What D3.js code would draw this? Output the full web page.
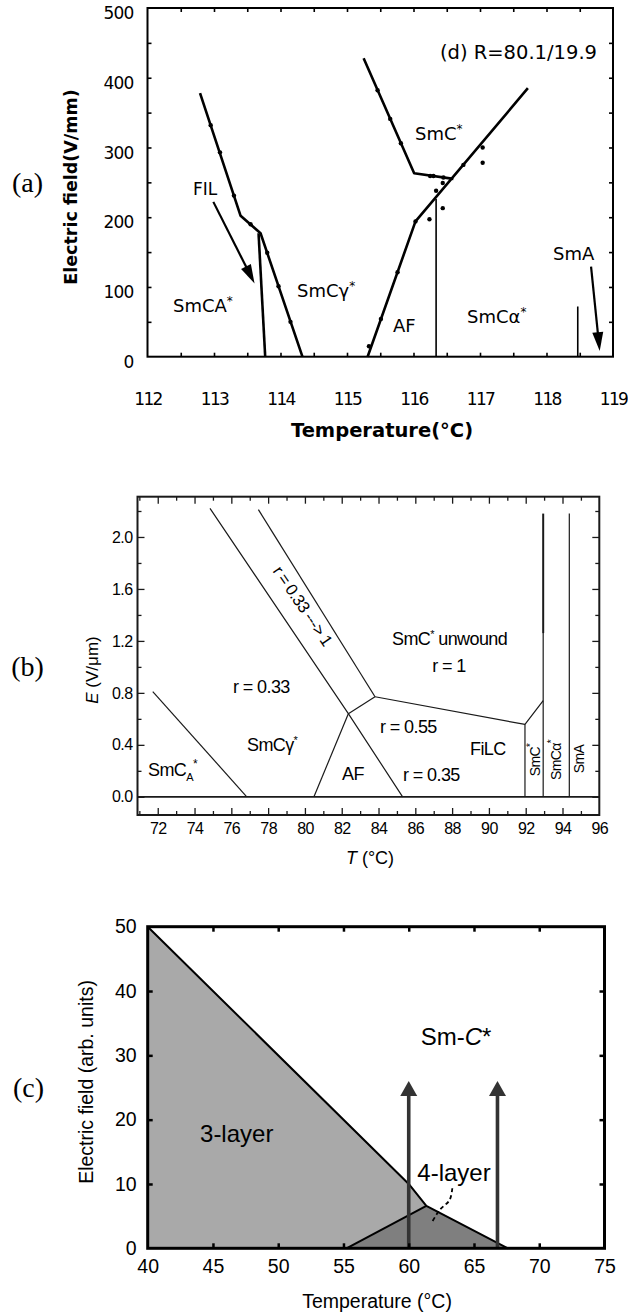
<!DOCTYPE html>
<html><head><meta charset="utf-8">
<script src="https://cdn.jsdelivr.net/npm/d3@7"></script>
<style>
body{margin:0;background:#fff;}
svg{display:block;background:#fff;}
</style></head>
<body><svg id="fig" width="628" height="1315"></svg>
<script>
// ---------- Panel (a): E–T phase diagram, R = 80.1/19.9 ----------
const aTempTicks = [112, 113, 114, 115, 116, 117, 118, 119];
const aFieldTicks = [0, 100, 200, 300, 400, 500];
const aLeftBoundary = [[112.79, 378], [113.40, 202], [113.70, 177], [114.33, 0]];
const aFilBoundary = [[113.67, 177], [113.77, 0]];
const aSmCBoundary = [[115.25, 428], [116.01, 263], [116.60, 255]];
const aAFBoundary = [[115.31, 0], [116.03, 194], [117.72, 385]];
const aAFSmCaBoundary = [[116.34, 226], [116.34, 0]];
const aSmAMark = [[118.47, 72], [118.47, 0]];
const aFilArrow = [[112.99, 222], [113.61, 105]];
const aSmAArrow = [[118.67, 129], [118.80, 8]];
const aPoints = [
  [112.95, 332], [113.09, 293], [113.30, 231], [113.55, 190], [113.80, 149], [113.97, 101], [114.15, 50],
  [115.46, 382], [115.65, 341], [115.81, 306], [116.30, 259], [116.45, 257],
  [115.33, 15], [115.51, 54], [115.76, 121], [116.03, 194], [116.75, 275], [117.04, 300],
  [117.04, 278], [116.34, 238], [116.44, 249], [116.44, 213], [116.24, 197], [116.25, 259]
];

// ---------- Panel (b): E–T diagram with r values ----------
const bTempTicks = [72, 74, 76, 78, 80, 82, 84, 86, 88, 90, 92, 94, 96];
const bFieldTicks = [0.0, 0.4, 0.8, 1.2, 1.6, 2.0];
const bSmCAEdge = [[71.73, 0.81], [76.84, 0]];
const bBandLower = [[74.84, 2.22], [82.36, 0.64], [85.31, 0]];
const bBandUpper = [[77.47, 2.21], [83.81, 0.77]];
const bTripleLink = [[82.36, 0.64], [83.81, 0.77]];
const bAFEdge = [[80.49, 0], [82.36, 0.64]];
const bFiLCTop = [[83.81, 0.77], [91.96, 0.557], [92.95, 0.74]];
const bFiLCEdge = [[91.96, 0.557], [91.96, 0]];
const bSmCEdgeUpper = [[92.95, 2.18], [92.95, 1.26]];
const bSmCEdgeLower = [[92.95, 1.26], [92.95, 0]];
const bSmCaEdge = [[94.37, 2.18], [94.37, 0]];

// ---------- Panel (c): 3-layer / 4-layer / Sm-C* ----------
const cTempTicks = [40, 45, 50, 55, 60, 65, 70, 75];
const cFieldTicks = [0, 10, 20, 30, 40, 50];
const cThreeLayer = [[40, 50], [60, 10], [61.35, 6.6], [55.23, 0], [40, 0]];
const cFourLayer = [[55.23, 0], [61.35, 6.6], [67.6, 0]];
const cBoundary = [[40, 50], [60, 10], [61.35, 6.6], [67.6, 0]];
const cFourEdge = [[55.23, 0], [61.35, 6.6]];
const cArrowTemps = [60, 66.8];
const cArrowTop = 26;
const cLeader = [[63.34, 9.33], [63.13, 7.5], [62.37, 5.96], [61.81, 4.15]];

const svg = d3.select('#fig');

function drawPath(g, sx, sy, pts, stroke, w, curve) {
  const gen = d3.line().x(d => sx(d[0])).y(d => sy(d[1]));
  if (curve) gen.curve(curve);
  return g.append('path').attr('d', gen(pts)).attr('fill', 'none')
    .attr('stroke', stroke).attr('stroke-width', w).attr('stroke-linejoin', 'round');
}

function drawArea(g, sx, sy, pts, fill) {
  const gen = d3.line().x(d => sx(d[0])).y(d => sy(d[1]));
  return g.append('path').attr('d', gen(pts) + 'Z').attr('fill', fill).attr('stroke', 'none');
}

function drawArrow(g, p1, p2, color, w, headLen, headW) {
  const dx = p2[0] - p1[0], dy = p2[1] - p1[1], L = Math.hypot(dx, dy);
  const ux = dx / L, uy = dy / L;
  const bx0 = p2[0] - ux * headLen, by0 = p2[1] - uy * headLen;
  g.append('line').attr('x1', p1[0]).attr('y1', p1[1])
    .attr('x2', bx0 + ux * 2).attr('y2', by0 + uy * 2)
    .attr('stroke', color).attr('stroke-width', w);
  const pts = [[p2[0], p2[1]], [bx0 - uy * headW / 2, by0 + ux * headW / 2], [bx0 + uy * headW / 2, by0 - ux * headW / 2]];
  g.append('polygon').attr('points', pts.map(p => p.join(',')).join(' ')).attr('fill', color);
}

function tickMarks(g, axisFn, scale, values, size, transform, width, color) {
  const a = axisFn(scale).tickValues(values).tickSize(-size).tickFormat('');
  const gg = g.append('g').attr('transform', transform).call(a);
  gg.select('.domain').remove();
  gg.selectAll('line').attr('stroke', color).attr('stroke-width', width);
  gg.selectAll('text').remove();
  return gg;
}

function tickLabels(g, axisFn, scale, values, fmt, pad, transform, font, size) {
  const a = axisFn(scale).tickValues(values).tickSize(0).tickPadding(pad).tickFormat(fmt);
  const gg = g.append('g').attr('transform', transform).call(a);
  gg.select('.domain').remove();
  gg.selectAll('line').remove();
  gg.attr('font-family', font).attr('font-size', size);
  gg.selectAll('text').attr('fill', '#000');
  return gg;
}

// Text with tspans: parts = [{t, shift, size, italic}]
function richText(g, x, y, parts, opts) {
  const o = Object.assign({ anchor: 'start', size: 16, font: 'Liberation Sans, Arial, sans-serif', rotate: 0, weight: 'normal' }, opts || {});
  const t = g.append('text').attr('font-family', o.font).attr('font-size', o.size)
    .attr('font-weight', o.weight).attr('text-anchor', o.anchor).attr('fill', '#000')
    .attr('transform', `translate(${x},${y}) rotate(${o.rotate})`);
  let prev = 0;
  parts.forEach(p => {
    const s = p.shift || 0;
    const sp = t.append('tspan').text(p.t).attr('dy', s - prev);
    if (p.size) sp.attr('font-size', p.size);
    if (p.italic) sp.attr('font-style', 'italic');
    if (p.dx) sp.attr('dx', p.dx);
    prev = s;
  });
  return t;
}

// ================= Panel (a) =================
{
  const g = svg.append('g');
  const font = 'DejaVu Sans, sans-serif';
  const sx = d3.scaleLinear().domain([112, 119]).range([147.5, 613]);
  const sy = d3.scaleLinear().domain([0, 500]).range([356.7, 8]);
  const [x0, x1] = sx.range(), [y0, y1] = sy.range();

  const halfSteps = d3.range(112.5, 119, 0.5);
  const fieldSteps = d3.range(50, 500, 50);
  tickMarks(g, d3.axisBottom, sx, halfSteps, 4, `translate(0,${y0})`, 1.6, '#000');
  tickMarks(g, d3.axisTop, sx, halfSteps, 4, `translate(0,${y1})`, 1.6, '#000');
  tickMarks(g, d3.axisLeft, sy, fieldSteps, 4, `translate(${x0},0)`, 1.6, '#000');
  tickMarks(g, d3.axisRight, sy, fieldSteps, 4, `translate(${x1},0)`, 1.6, '#000');

  g.append('rect').attr('x', x0).attr('y', y1).attr('width', x1 - x0).attr('height', y0 - y1)
    .attr('fill', 'none').attr('stroke', '#000').attr('stroke-width', 2);

  tickLabels(g, d3.axisBottom, sx, aTempTicks, d3.format('d'), 36, `translate(0,${y0})`, font, 17)
    .attr('letter-spacing', '-1.6');
  tickLabels(g, d3.axisLeft, sy, aFieldTicks, d3.format('d'), 14, `translate(${x0},0)`, font, 17)
    .attr('letter-spacing', '-0.8')
    .selectAll('text').attr('dy', '0.62em');

  // boundaries
  drawPath(g, sx, sy, aLeftBoundary, '#000', 2.6);
  drawPath(g, sx, sy, aFilBoundary, '#000', 2.6);
  drawPath(g, sx, sy, aSmCBoundary, '#000', 2.6);
  drawPath(g, sx, sy, aAFBoundary, '#000', 2.6);
  drawPath(g, sx, sy, aAFSmCaBoundary, '#000', 1.6);
  drawPath(g, sx, sy, aSmAMark, '#000', 1.6);

  g.selectAll('circle.pt').data(aPoints).join('circle').attr('class', 'pt')
    .attr('cx', d => sx(d[0])).attr('cy', d => sy(d[1])).attr('r', 2.2).attr('fill', '#000');

  drawArrow(g, [sx(aFilArrow[0][0]), sy(aFilArrow[0][1])], [sx(aFilArrow[1][0]), sy(aFilArrow[1][1])], '#000', 2.2, 19, 11);
  drawArrow(g, [sx(aSmAArrow[0][0]), sy(aSmAArrow[0][1])], [sx(aSmAArrow[1][0]), sy(aSmAArrow[1][1])], '#000', 2.2, 19, 11);

  const star = { t: '*', shift: -7, size: 12 };
  richText(g, 193, 195, [{ t: 'FIL' }], { font, size: 17 });
  richText(g, 173, 312, [{ t: 'SmCA' }, star], { font, size: 18 });
  richText(g, 297, 297, [{ t: 'SmCγ' }, star], { font, size: 18 });
  richText(g, 415, 140, [{ t: 'SmC' }, star], { font, size: 18 });
  richText(g, 393, 331.5, [{ t: 'AF' }], { font, size: 18 });
  richText(g, 467, 323, [{ t: 'SmCα' }, star], { font, size: 18 });
  richText(g, 553, 260, [{ t: 'SmA' }], { font, size: 18 });
  richText(g, 597, 59, [{ t: '(d) R=80.1/19.9' }], { font, size: 19.5, anchor: 'end' });

  richText(g, 77, 187, [{ t: 'Electric field(V/mm)' }], { font, size: 17.5, weight: 'bold', anchor: 'middle', rotate: -90 });
  richText(g, 382, 437, [{ t: 'Temperature(°C)' }], { font, size: 19.5, weight: 'bold', anchor: 'middle' });
  richText(g, 27.5, 192, [{ t: '(a)' }], { font: 'Liberation Serif, Times New Roman, serif', size: 28, anchor: 'middle' });
}

// ================= Panel (b) =================
{
  const g = svg.append('g');
  const font = 'Liberation Sans, Arial, sans-serif';
  const sx = d3.scaleLinear().domain([70.9, 96]).range([137.5, 599.3]);
  const sy = d3.scaleLinear().domain([-0.14, 2.31]).range([815, 496.7]);
  const [x0, x1] = sx.range(), [y0, y1] = sy.range();
  const ink = '#1a1a1a';

  const majorT = d3.range(72, 96, 2), minorT = d3.range(71, 96, 2);
  const majorE = [0, 0.4, 0.8, 1.2, 1.6, 2.0], minorE = [0.2, 0.6, 1.0, 1.4, 1.8, 2.2];
  tickMarks(g, d3.axisBottom, sx, majorT, 7, `translate(0,${y0})`, 1.3, ink);
  tickMarks(g, d3.axisBottom, sx, minorT, 4, `translate(0,${y0})`, 1.3, ink);
  tickMarks(g, d3.axisTop, sx, majorT, 7, `translate(0,${y1})`, 1.3, ink);
  tickMarks(g, d3.axisTop, sx, minorT, 4, `translate(0,${y1})`, 1.3, ink);
  tickMarks(g, d3.axisLeft, sy, majorE, 7, `translate(${x0},0)`, 1.3, ink);
  tickMarks(g, d3.axisLeft, sy, minorE, 4, `translate(${x0},0)`, 1.3, ink);
  tickMarks(g, d3.axisRight, sy, majorE, 7, `translate(${x1},0)`, 1.3, ink);
  tickMarks(g, d3.axisRight, sy, minorE, 4, `translate(${x1},0)`, 1.3, ink);

  g.append('rect').attr('x', x0).attr('y', y1).attr('width', x1 - x0).attr('height', y0 - y1)
    .attr('fill', 'none').attr('stroke', ink).attr('stroke-width', 2);
  g.append('line').attr('x1', x0).attr('x2', x1).attr('y1', sy(0)).attr('y2', sy(0))
    .attr('stroke', ink).attr('stroke-width', 1.8);

  tickLabels(g, d3.axisBottom, sx, bTempTicks, d3.format('d'), 8, `translate(0,${y0})`, font, 16)
    .attr('letter-spacing', '-0.6');
  tickLabels(g, d3.axisLeft, sy, bFieldTicks, d3.format('.1f'), 5, `translate(${x0},0)`, font, 16)
    .attr('letter-spacing', '-0.6');

  [bSmCAEdge, bBandLower, bBandUpper, bTripleLink, bAFEdge, bFiLCTop, bFiLCEdge, bSmCEdgeLower, bSmCaEdge]
    .forEach(p => drawPath(g, sx, sy, p, ink, 1.2));
  drawPath(g, sx, sy, bSmCEdgeUpper, ink, 2);

  const star = { t: '*', shift: -7, size: 11 };
  const ls = -0.6;
  richText(g, 233, 693, [{ t: 'r = 0.33' }], { font, size: 18 }).attr('letter-spacing', ls);
  richText(g, 247, 751, [{ t: 'SmCγ' }, star], { font, size: 18 }).attr('letter-spacing', ls);
  richText(g, 148, 776, [{ t: 'SmC' }, { t: 'A', shift: 5, size: 11 }, { t: '*', shift: -8, size: 12 }], { font, size: 18 }).attr('letter-spacing', ls);
  richText(g, 342, 780, [{ t: 'AF' }], { font, size: 18 }).attr('letter-spacing', ls);
  richText(g, 380, 733, [{ t: 'r = 0.55' }], { font, size: 18 }).attr('letter-spacing', ls);
  richText(g, 403, 781, [{ t: 'r = 0.35' }], { font, size: 18 }).attr('letter-spacing', ls);
  richText(g, 392, 645, [{ t: 'SmC' }, star, { t: ' unwound', shift: 0 }], { font, size: 18 }).attr('letter-spacing', ls);
  richText(g, 449, 672, [{ t: 'r = 1' }], { font, size: 18, anchor: 'middle' }).attr('letter-spacing', ls);
  richText(g, 470, 755, [{ t: 'FiLC' }], { font, size: 18 }).attr('letter-spacing', ls);

  // rotated label along the r = 0.33 → 1 band
  const p1 = [sx(bBandLower[0][0]), sy(bBandLower[0][1])], p2 = [sx(bBandLower[1][0]), sy(bBandLower[1][1])];
  const ang = Math.atan2(p2[1] - p1[1], p2[0] - p1[0]) * 180 / Math.PI;
  richText(g, 298, 609, [{ t: 'r = 0.33 ---> 1' }], { font, size: 16.5, anchor: 'middle', rotate: ang }).attr('letter-spacing', ls);

  richText(g, 540, 760, [{ t: 'SmC' }, { t: '*', shift: -6, size: 10 }], { font, size: 14, anchor: 'middle', rotate: -90 }).attr('letter-spacing', ls);
  richText(g, 560.5, 760, [{ t: 'SmCα' }, { t: '*', shift: -6, size: 10 }], { font, size: 14, anchor: 'middle', rotate: -90 }).attr('letter-spacing', ls);
  richText(g, 584, 759, [{ t: 'SmA' }], { font, size: 14, anchor: 'middle', rotate: -90 }).attr('letter-spacing', ls);

  richText(g, 98, 670, [{ t: 'E', italic: true }, { t: ' (V/μm)' }], { font, size: 17, anchor: 'middle', rotate: -90 });
  richText(g, 370, 864, [{ t: 'T', italic: true }, { t: ' (°C)' }], { font, size: 18, anchor: 'middle' });
  richText(g, 27.5, 676, [{ t: '(b)' }], { font: 'Liberation Serif, Times New Roman, serif', size: 28, anchor: 'middle' });
}

// ================= Panel (c) =================
{
  const g = svg.append('g');
  const font = 'Liberation Sans, Arial, sans-serif';
  const sx = d3.scaleLinear().domain([40, 75]).range([147.7, 604.5]);
  const sy = d3.scaleLinear().domain([0, 50]).range([1248.3, 926.7]);
  const [x0, x1] = sx.range(), [y0, y1] = sy.range();

  drawArea(g, sx, sy, cThreeLayer, '#a9a9a9');
  drawArea(g, sx, sy, cFourLayer, '#7f7f7f');
  drawPath(g, sx, sy, cBoundary, '#000', 2);
  drawPath(g, sx, sy, cFourEdge, '#000', 2);

  cArrowTemps.forEach(t => drawArrow(g, [sx(t), sy(0)], [sx(t), sy(cArrowTop)], '#333', 3.6, 15, 17));

  const innerT = [45, 50, 55, 60, 65, 70], innerE = [10, 20, 30, 40];
  tickMarks(g, d3.axisBottom, sx, innerT, 5, `translate(0,${y0})`, 2.5, '#000');
  tickMarks(g, d3.axisTop, sx, innerT, 5, `translate(0,${y1})`, 2.5, '#000');
  tickMarks(g, d3.axisLeft, sy, innerE, 5, `translate(${x0},0)`, 2.5, '#000');
  tickMarks(g, d3.axisRight, sy, innerE, 5, `translate(${x1},0)`, 2.5, '#000');

  g.append('rect').attr('x', x0).attr('y', y1).attr('width', x1 - x0).attr('height', y0 - y1)
    .attr('fill', 'none').attr('stroke', '#000').attr('stroke-width', 3);

  drawPath(g, sx, sy, cLeader, '#000', 1.8, d3.curveCatmullRom).attr('stroke-dasharray', '4,3');

  tickLabels(g, d3.axisBottom, sx, cTempTicks, d3.format('d'), 11, `translate(0,${y0})`, font, 19.5);
  tickLabels(g, d3.axisLeft, sy, cFieldTicks, d3.format('d'), 11, `translate(${x0},0)`, font, 19.5);

  richText(g, 236.7, 1142, [{ t: '3-layer' }], { font, size: 24, anchor: 'middle' });
  richText(g, 454, 1180.5, [{ t: '4-layer' }], { font, size: 24, anchor: 'middle' });
  richText(g, 456, 1045, [{ t: 'Sm-' }, { t: 'C', italic: true }, { t: '*' }], { font, size: 24, anchor: 'middle' });

  richText(g, 93, 1082, [{ t: 'Electric field (arb. units)' }], { font, size: 19.5, anchor: 'middle', rotate: -90 });
  richText(g, 377, 1308, [{ t: 'Temperature (°C)' }], { font, size: 19.5, anchor: 'middle' });
  richText(g, 28.5, 1097, [{ t: '(c)' }], { font: 'Liberation Serif, Times New Roman, serif', size: 28, anchor: 'middle' });
}
</script>
</body></html>
